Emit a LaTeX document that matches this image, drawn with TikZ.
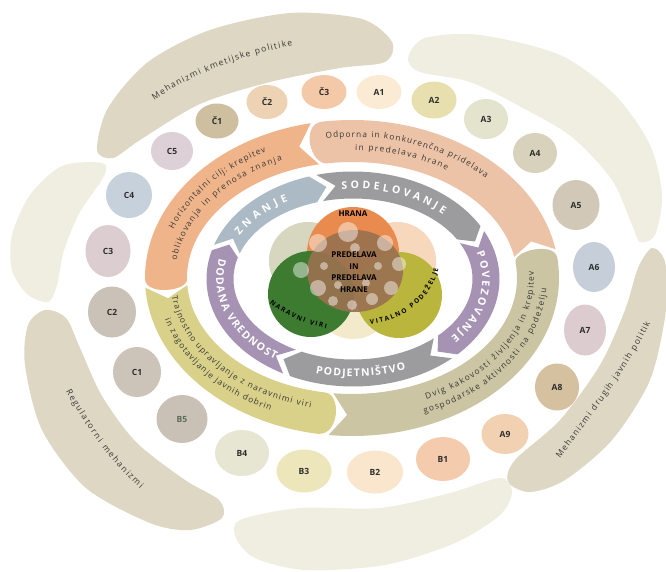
\documentclass[tikz,border=0pt]{standalone}
\usepackage{fontspec}
\setmainfont{Open Sans}
\usepackage{tikz}
\usetikzlibrary{shapes.geometric,decorations.text}

\definecolor{ringgray}{HTML}{9C9B9E}
\definecolor{ringpurple}{HTML}{A693B4}
\definecolor{ringblue}{HTML}{ABBAC5}
\definecolor{bandorange}{HTML}{F0B48B}
\definecolor{bandsalmon}{HTML}{EDC3A8}
\definecolor{bandolive}{HTML}{CBC5A3}
\definecolor{bandyellow}{HTML}{D9D18A}
\definecolor{outerbeige}{HTML}{DDD7C3}
\definecolor{outerlight}{HTML}{EFEEE0}
\definecolor{bandtext}{HTML}{383836}
\definecolor{celltext}{HTML}{2E2E2E}
\definecolor{fhrana}{HTML}{E98B4E}
\definecolor{fpeach}{HTML}{F8D8BC}
\definecolor{fsage}{HTML}{D6D7BE}
\definecolor{fcream}{HTML}{F3EACB}
\definecolor{fgreen}{HTML}{3D7B31}
\definecolor{fyellow}{HTML}{BAB53C}
\definecolor{fbrown}{HTML}{9A7150}
% cell colours
\definecolor{cellch1}{HTML}{CDBFA0}
\definecolor{cellch2}{HTML}{EDD3B4}
\definecolor{cellch3}{HTML}{F4C9A7}
\definecolor{cella1}{HTML}{FBEBD4}
\definecolor{cella2}{HTML}{E7E0AE}
\definecolor{cella3}{HTML}{E3E3CE}
\definecolor{cella4}{HTML}{D8D1BC}
\definecolor{cella5}{HTML}{D1C8B7}
\definecolor{cella6}{HTML}{C6CFD9}
\definecolor{cella7}{HTML}{DDCCCF}
\definecolor{cella8}{HTML}{D5C09F}
\definecolor{cella9}{HTML}{F2D1B2}
\definecolor{cellb1}{HTML}{F4CBAD}
\definecolor{cellb2}{HTML}{FAE6CD}
\definecolor{cellb3}{HTML}{EEE6BB}
\definecolor{cellb4}{HTML}{E6E6D3}
\definecolor{cellb5}{HTML}{C9C1B6}
\definecolor{cellc1}{HTML}{CCC4B9}
\definecolor{cellc2}{HTML}{CAC2B6}
\definecolor{cellc3}{HTML}{DCCDD0}
\definecolor{cellc4}{HTML}{C7D1DB}
\definecolor{cellc5}{HTML}{DED0D7}
\definecolor{bfivetext}{HTML}{5C6B5C}

\tikzset{cell/.style={ellipse,inner sep=0pt,text=celltext,font=\bfseries\fontsize{8.5}{8.5}\selectfont},
         hubtext/.style={inner sep=0pt,text=black,font=\bfseries\fontsize{8}{11.5}\selectfont},
         bubble/.style={fill=white,opacity=0.45}
}
\newcommand{\ringfont}{\color{white}\bfseries\fontsize{10.5}{10.5}\selectfont}
\newcommand{\bandfont}{\color{bandtext}\fontsize{8.3}{8.3}\selectfont}
\newcommand{\blobfont}{\color{bandtext}\fontsize{8.5}{8.5}\selectfont}
\newcommand{\petalfont}{\color{black}\bfseries\fontsize{6.5}{6.5}\selectfont}
% middle band: notch end, round end, colour
\newcommand{\midband}[3]{\fill[#3] (#1:207 and 158) arc[start angle=#1, end angle=#2, x radius=207, y radius=158]
  .. controls ({#2+6}:207 and 158) and ({#2+6}:165 and 116) .. (#2:165 and 116)
  arc[start angle=#2, end angle=#1, x radius=165, y radius=116] -- ({#1+5}:186 and 137) -- cycle;}
% inner band: head end, tail end, colour
\newcommand{\innerband}[3]{\fill[#3] (#1:146.5 and 107.5) arc[start angle=#1, end angle=#2, x radius=146.5, y radius=107.5]
  -- ({#2-7}:133 and 94) -- (#2:119.5 and 80.5)
  arc[start angle=#2, end angle=#1, x radius=119.5, y radius=80.5] -- ({#1-6}:133 and 94) -- cycle;}
% text on an elliptic arc: rx, ry, from, to, raise, text
\newcommand{\arctext}[6]{\path[decorate,decoration={text along path,text align={fit to path},raise=#5,text={#6}}]
  (#3:#1 and #2) arc[start angle=#3, end angle=#4, x radius=#1, y radius=#2];}

\begin{document}
\begin{tikzpicture}[x=1pt,y=1pt,yscale=-1,xscale=1]
\fill[white] (0,0) rectangle (666,571);
\useasboundingbox (0,0) rectangle (666,571);

%Shape: Blob
\fill[outerbeige] plot[smooth cycle] coordinates {(97,150) (108,108) (148,62) (210,30) (290,13) (362,19) (392,42) (385,62) (340,68) (270,82) (200,104) (140,140) (113,158)};
%Shape: Blob
\fill[outerlight] plot[smooth cycle] coordinates {(408,58) (425,38) (480,35) (560,55) (615,95) (650,145) (662,195) (655,235) (640,242) (632,225) (612,180) (572,137) (523,108) (470,82) (420,72)};
%Shape: Blob
\fill[outerbeige] plot[smooth cycle] coordinates {(652,248) (665,262) (666,310) (650,380) (612,440) (565,480) (530,492) (508,482) (515,460) (560,420) (600,365) (625,310) (638,268)};
%Shape: Blob
\fill[outerlight] plot[smooth cycle] coordinates {(240,520) (300,508) (380,508) (450,493) (500,478) (512,492) (500,515) (455,543) (385,565) (305,570) (255,558) (236,538)};
%Shape: Blob
\fill[outerbeige] plot[smooth cycle] coordinates {(45,310) (66,318) (80,348) (102,396) (136,442) (185,480) (219,500) (222,518) (190,530) (150,523) (86,488) (42,430) (25,365) (28,325)};
%Shape: Blob
\fill[outerlight] plot[smooth cycle] coordinates {(102,163) (62,166) (30,195) (12,235) (12,270) (27,294) (48,302) (57,285) (64,250) (80,212) (104,176)};

% Text Node
\path[decorate,decoration={text along path,text align={fit to path},raise=-2.5pt,text={|\blobfont|Mehanizmi kmetijske politike}}] (153,98) .. controls (190,72) and (245,52) .. (292,43);
% Text Node
\path[decorate,decoration={text along path,text align={fit to path},raise=-2.5pt,text={|\blobfont|Mehanizmi drugih javnih politik}}] (558,457) .. controls (585,420) and (625,370) .. (648,322);
% Text Node
\path[decorate,decoration={text along path,text align={fit to path},raise=-2.5pt,text={|\blobfont|Regulatorni mehanizmi}}] (68,390) .. controls (88,425) and (110,458) .. (142,487);

%Shape: Ellipse
\node[cell, fill=cellch1, minimum width=43, minimum height=35] (ch1) at (217,121) {Č1};
\node[cell, fill=cellch2, minimum width=41, minimum height=34] (ch2) at (267,102) {Č2};
\node[cell, fill=cellch3, minimum width=45, minimum height=34] (ch3) at (324,92) {Č3};
\node[cell, fill=cella1, minimum width=45, minimum height=34] (a1) at (379,92) {A1};
\node[cell, fill=cella2, minimum width=45, minimum height=37] (a2) at (434,100) {A2};
\node[cell, fill=cella3, minimum width=44, minimum height=40] (a3) at (486,119) {A3};
\node[cell, fill=cella4, minimum width=44, minimum height=40] (a4) at (535,153) {A4};
\node[cell, fill=cella5, minimum width=47, minimum height=50] (a5) at (576,205) {A5};
\node[cell, fill=cella6, minimum width=42, minimum height=50] (a6) at (594,267) {A6};
\node[cell, fill=cella7, minimum width=42, minimum height=51] (a7) at (585,330) {A7};
\node[cell, fill=cella8, minimum width=44, minimum height=47] (a8) at (557,387) {A8};
\node[cell, fill=cella9, minimum width=47, minimum height=40] (a9) at (505,434) {A9};
\node[cell, fill=cellb1, minimum width=54, minimum height=44] (b1) at (443,459) {B1};
\node[cell, fill=cellb2, minimum width=56, minimum height=43] (b2) at (375,472) {B2};
\node[cell, fill=cellb3, minimum width=55, minimum height=43] (b3) at (304,471) {B3};
\node[cell, fill=cellb4, minimum width=54, minimum height=46] (b4) at (242,453) {B4};
\node[cell, fill=cellb5, minimum width=51, minimum height=48, text=bfivetext] (b5) at (182,419) {B5};
\node[cell, fill=cellc1, minimum width=48, minimum height=50] (c1) at (137,372) {C1};
\node[cell, fill=cellc2, minimum width=48, minimum height=51] (c2) at (112,312) {C2};
\node[cell, fill=cellc3, minimum width=45, minimum height=52] (c3) at (108,251) {C3};
\node[cell, fill=cellc4, minimum width=46, minimum height=46] (c4) at (129,195) {C4};
\node[cell, fill=cellc5, minimum width=42, minimum height=38] (c5) at (172,151) {C5};

%Shape: Arc bands
\begin{scope}[shift={(352,278)},yscale=-1]
\midband{10.5}{98.5}{bandsalmon}
\midband{101.5}{180.5}{bandorange}
\midband{183.5}{260.5}{bandyellow}
\midband{263.5}{367.5}{bandolive}
\arctext{186}{137}{98}{45}{4pt}{|\bandfont|Odporna in konkurenčna pridelava}
\arctext{186}{137}{89}{58}{-9pt}{|\bandfont|in predelava hrane}
\arctext{186}{137}{160}{117}{4pt}{|\bandfont|Horizontalni cilj: krepitev}
\arctext{186}{137}{172}{113}{-9pt}{|\bandfont|oblikovanja in prenosa znanja}
\arctext{186}{137}{-66}{3}{4pt}{|\bandfont|Dvig kakovosti življenja in krepitev}
\arctext{186}{137}{-68}{-4}{-9pt}{|\bandfont|gospodarske aktivnosti na podeželju}
\arctext{186}{137}{188}{257}{4pt}{|\bandfont|Trajnostno upravljanje z naravnimi viri}
\arctext{186}{137}{196}{245}{-9pt}{|\bandfont|in zagotavljanje javnih dobrin}
\end{scope}

%Shape: Arrow bands
\begin{scope}[shift={(353,279)},yscale=-1]
\innerband{29.5}{104.5}{ringgray}
\innerband{107.5}{161.5}{ringblue}
\innerband{164.5}{241.5}{ringpurple}
\innerband{244.5}{312.5}{ringgray}
\innerband{315.5}{386.5}{ringpurple}
\arctext{133}{94}{95}{46}{-3.8pt}{|\ringfont|SODELOVANJE}
\arctext{133}{94}{151}{120}{-3.8pt}{|\ringfont|ZNANJE}
\arctext{133}{94}{17}{-41}{-3.8pt}{|\ringfont|POVEZOVANJE}
\arctext{133}{94}{254}{293}{-3.8pt}{|\ringfont|PODJETNIŠTVO}
\arctext{133}{94}{168}{235}{-3.8pt}{|\ringfont|DODANA VREDNOST}
\end{scope}

%Shape: Circles
\fill[fsage] (308,261) circle[radius=39];
\fill[fpeach] (397,261) circle[radius=39];
\fill[fcream] (353,300) circle[radius=39];
\fill[fhrana] (353,253) circle[radius=46];
\fill[fgreen] (311,294) circle[radius=43];
\fill[fyellow] (399,295) circle[radius=43];
\fill[fbrown,opacity=0.92] (355,271) ellipse[x radius=48, y radius=41];
\fill[bubble] (348,232) circle[radius=10];
\fill[bubble] (318,243) circle[radius=9];
\fill[bubble] (385,243) circle[radius=8];
\fill[bubble] (301,270) circle[radius=8];
\fill[bubble] (399,264) circle[radius=7];
\fill[bubble] (318,288) circle[radius=8];
\fill[bubble] (391,288) circle[radius=7];
\fill[bubble] (333,301) circle[radius=5];
\fill[bubble] (372,299) circle[radius=6];
\fill[bubble] (352,305) circle[radius=5];
\fill[bubble] (324,266) circle[radius=4];
\fill[bubble] (378,266) circle[radius=4];
\fill[bubble] (338,285) circle[radius=4];
\fill[bubble] (366,283) circle[radius=4];
\fill[bubble] (355,248) circle[radius=5];

% Text Node
\node[hubtext] (hrana) at (353,214) {HRANA};
% Text Node
\node[hubtext, align=center] (hub) at (354,272) {PREDELAVA\\IN\\PREDELAVA\\HRANE};
% Text Node
\path[decorate,decoration={text along path,text align={fit to path},raise=-2.5pt,text={|\petalfont|NARAVNI VIRI}}] (271,301) .. controls (287,313) and (304,322) .. (327,326);
% Text Node
\path[decorate,decoration={text along path,text align={fit to path},raise=-2.5pt,text={|\petalfont|VITALNO PODEŽELJE}}] (370,322) .. controls (398,318) and (428,302) .. (436,268);

\end{tikzpicture}
\end{document}
